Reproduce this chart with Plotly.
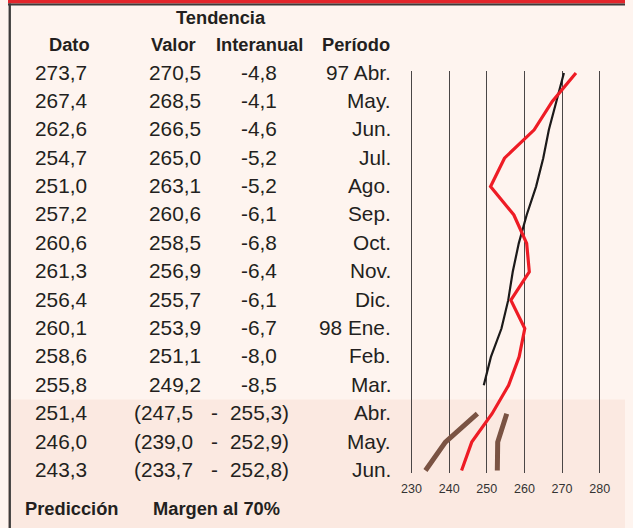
import plotly.graph_objects as go

# ---------------- data ----------------
periodos = ["97 Abr.", "May.", "Jun.", "Jul.", "Ago.", "Sep.", "Oct.", "Nov.",
            "Dic.", "98 Ene.", "Feb.", "Mar.", "Abr.", "May.", "Jun."]
dato = [273.7, 267.4, 262.6, 254.7, 251.0, 257.2, 260.6, 261.3,
        256.4, 260.1, 258.6, 255.8, 251.4, 246.0, 243.3]
tend_valor = [270.5, 268.5, 266.5, 265.0, 263.1, 260.6, 258.5, 256.9,
              255.7, 253.9, 251.1, 249.2]
tend_interanual = [-4.8, -4.1, -4.6, -5.2, -5.2, -6.1, -6.8, -6.4,
                   -6.1, -6.7, -8.0, -8.5]
margen_inf = [247.5, 239.0, 233.7]
margen_sup = [255.3, 252.9, 252.8]
x_ticks = [230, 240, 250, 260, 270, 280]

# ---------------- geometry ----------------
W, H = 633, 528
def px(x):
    return x / W
def py(y):
    return 1 - y / H

n_rows = len(periodos)
n_hist = len(tend_valor)
rows = list(range(n_rows))
pred_rows = rows[n_hist:]

y_top_px, y_bot_px = 73.0, 470.5          # centres of first / last rows
row_h = (y_bot_px - y_top_px) / (n_rows - 1)
pad_rows = 0.08
x_lo_px, x_hi_px = 414.0, 607.0           # pixels of 230 and 280
u = (x_hi_px - x_lo_px) / (x_ticks[-1] - x_ticks[0])
x_pad = 0.6

def row_px(r):
    return y_top_px + r * row_h

def fmt(v):
    return f"{v:.1f}".replace(".", ",")

FONT = "Liberation Sans, Arial, Helvetica, sans-serif"
TXT = "#231f20"
BG = "#fef4ef"
BAND = "#fbe9e1"

fig = go.Figure()

fig.add_trace(go.Scatter(x=tend_valor, y=rows[:n_hist], mode="lines",
                         line=dict(color="#1c1a1a", width=2.2), hoverinfo="skip"))
fig.add_trace(go.Scatter(x=margen_inf, y=pred_rows, mode="lines",
                         line=dict(color="#7a5343", width=5), hoverinfo="skip"))
fig.add_trace(go.Scatter(x=margen_sup, y=pred_rows, mode="lines",
                         line=dict(color="#7a5343", width=5), hoverinfo="skip"))
fig.add_trace(go.Scatter(x=dato, y=rows, mode="lines",
                         line=dict(color="#ee1c25", width=3.2), hoverinfo="skip"))

shapes = []
band_top = row_px(n_hist - 0.5)
shapes.append(dict(type="rect", xref="paper", yref="paper", x0=0, x1=1,
                   y0=0, y1=py(band_top), fillcolor=BAND, line_width=0, layer="below"))
shapes.append(dict(type="rect", xref="paper", yref="paper", x0=0, x1=1,
                   y0=py(3.4), y1=1, fillcolor="#e3252b", line_width=0))
shapes.append(dict(type="rect", xref="paper", yref="paper", x0=0, x1=1,
                   y0=py(5.4), y1=py(3.4), fillcolor="#3d3b3b", line_width=0))
shapes.append(dict(type="rect", xref="paper", yref="paper", x0=px(0.6), x1=px(3.0),
                   y0=0, y1=py(3.4), fillcolor="#3d3b3b", line_width=0))

ann = []
def text(x, y, s, anchor="center", size=20.8, bold=False):
    ann.append(dict(x=px(x), y=py(y), xref="paper", yref="paper", text=s,
                    showarrow=False, xanchor=anchor, yanchor="middle",
                    font=dict(family=FONT, size=size, color=TXT,
                              weight="bold" if bold else "normal")))

HS = 18.3
# headers
text(219, 18, "Tendencia", size=HS, bold=True)
text(63, 44, "Dato", size=HS, bold=True)
text(170, 44, "Valor", size=HS, bold=True)
text(258, 44, "Interanual", size=HS, bold=True)
text(357, 44, "Período", size=HS, bold=True)

for r in rows:
    yy = row_px(r) - 1
    text(83, yy, fmt(dato[r]), anchor="right")
    text(395, yy, periodos[r], anchor="right")
    if r < n_hist:
        text(200, yy, fmt(tend_valor[r]), anchor="right")
        text(278, yy, fmt(tend_interanual[r]), anchor="right")
    else:
        k = r - n_hist
        text(127, yy, "(" + fmt(margen_inf[k]), anchor="left")
        text(212, yy, "-")
        text(290, yy, fmt(margen_sup[k]) + ")", anchor="right")

text(15, 508, "Predicción", anchor="left", size=HS, bold=True)
text(147, 508, "Margen al 70%", anchor="left", size=HS, bold=True)

fig.update_layout(
    width=W, height=H,
    margin=dict(l=0, r=0, t=0, b=0),
    paper_bgcolor=BG, plot_bgcolor="rgba(0,0,0,0)",
    showlegend=False,
    shapes=shapes, annotations=ann,
    xaxis=dict(domain=[px(x_lo_px - x_pad * u), px(x_hi_px + x_pad * u)],
               range=[x_ticks[0] - x_pad, x_ticks[-1] + x_pad],
               tickvals=x_ticks, ticktext=[str(t) for t in x_ticks],
               showgrid=True, gridcolor="#4a4646", gridwidth=1.2,
               zeroline=False, showline=False, ticks="",
               ticklabelstandoff=7,
               tickfont=dict(family=FONT, size=12.5, color="#333333"),
               fixedrange=True),
    yaxis=dict(domain=[py(y_bot_px + pad_rows * row_h), py(y_top_px - pad_rows * row_h)],
               range=[n_rows - 1 + pad_rows, -pad_rows],
               showgrid=False, zeroline=False, showticklabels=False,
               ticks="", showline=False, fixedrange=True),
)

fig.write_html(
    "out.html",
    config={"displayModeBar": False},
    post_script="document.body.style.margin='0';document.body.style.overflow='hidden';",
)
